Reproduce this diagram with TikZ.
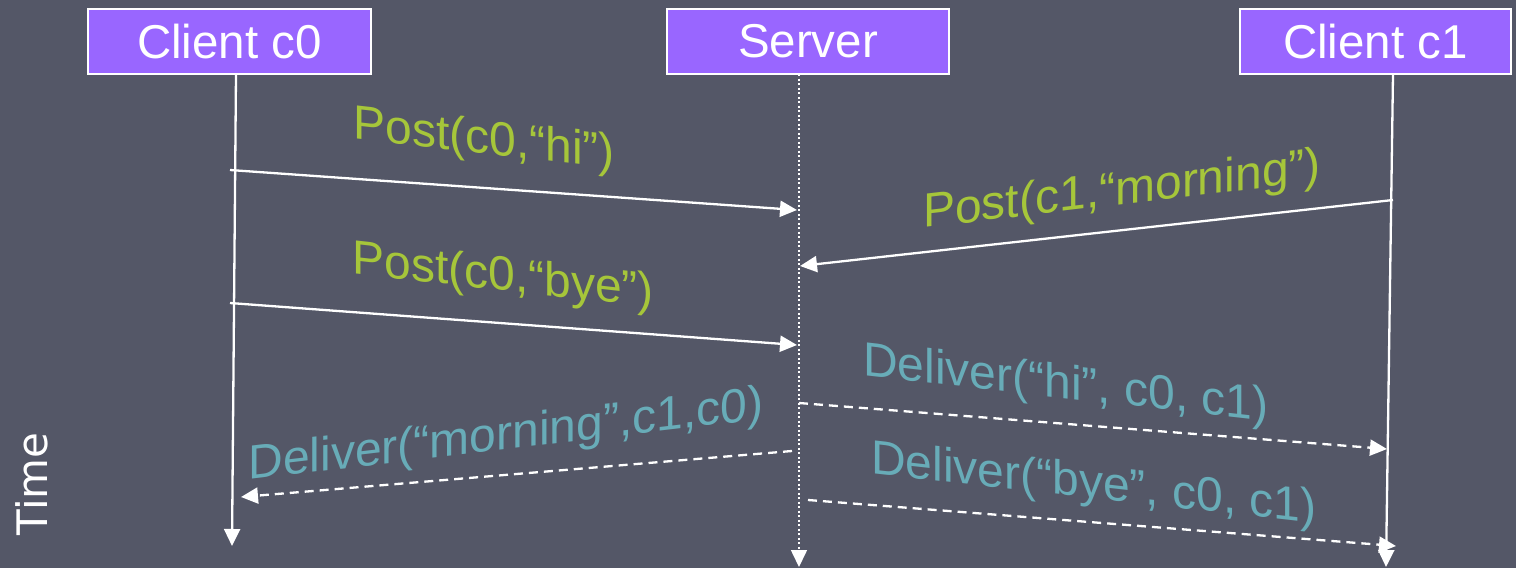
\documentclass[tikz,border=0pt]{standalone}
\usepackage{fontspec}
\setmainfont{Liberation Sans}
\newfontfamily\timefont{DejaVu Sans}
\usetikzlibrary{arrows.meta}
\definecolor{bgcol}{RGB}{84,87,103}
\definecolor{boxfill}{RGB}{153,102,255}
\definecolor{postcol}{RGB}{166,198,58}
\definecolor{delivcol}{RGB}{104,172,184}
\tikzset{
  party/.style={draw=white, line width=1.5pt, fill=boxfill, text=white,
    minimum height=65pt, inner sep=0pt, font=\fontsize{47.5}{50}\selectfont},
  tip/.style={-{Triangle[length=17pt,width=16pt]}},
  life/.style={draw=white, line width=2.3pt, tip},
  msg/.style={draw=white, line width=2.3pt, tip},
  dmsg/.style={msg, dash pattern=on 9pt off 6pt},
  % sloped labels: upright letters on a tilted baseline
  down/.style={yslant=-0.112, transform shape},
  up/.style={yslant=0.118, transform shape},
  postlbl/.style={text=postcol, font=\fontsize{48}{50}\selectfont, inner sep=0pt},
  delivlbl/.style={text=delivcol, font=\fontsize{48}{50}\selectfont, inner sep=0pt},
}
\begin{document}
\begin{tikzpicture}[x=1pt,y=-1pt]
  % canvas
  \fill[bgcol] (0,0) rectangle (1516,568);
  \useasboundingbox (0,0) rectangle (1516,568);

  % participants
  \node[party, minimum width=283pt] (c0) at (229.5,41.5) {Client c0};
  \node[party, minimum width=282pt] (srv) at (808,41.5) {Server};
  \node[party, minimum width=271pt] (c1) at (1375.5,41.5) {Client c1};

  % lifeline ends
  \coordinate (c0top) at (236,74);
  \coordinate (c0end) at (232,546);
  \coordinate (srvtop) at (799,74);
  \coordinate (srvend) at (799,567);
  \coordinate (c1top) at (1393,74);
  \coordinate (c1end) at (1386,567);

  \draw[life] (c0top) -- (c0end);
  \draw[life, line width=1.6pt, dash pattern=on 2pt off 2.5pt] (srvtop) -- (srvend);
  \draw[life] (c1top) -- (c1end);

  % message end points
  \coordinate (p1s) at (230,170);  \coordinate (p1e) at (797,210);
  \coordinate (p2s) at (1393,200); \coordinate (p2e) at (800,266);
  \coordinate (p3s) at (230,303);  \coordinate (p3e) at (797,345);
  \coordinate (d1s) at (799,403);  \coordinate (d1e) at (1387,449);
  \coordinate (d2s) at (792,451);  \coordinate (d2e) at (241,497);
  \coordinate (d3s) at (808,500);  \coordinate (d3e) at (1396,546);

  \draw[msg] (p1s) -- (p1e);
  \draw[msg] (p2s) -- (p2e);
  \draw[msg] (p3s) -- (p3e);
  \draw[dmsg] (d1s) -- (d1e);
  \draw[dmsg] (d2s) -- (d2e);
  \draw[dmsg] (d3s) -- (d3e);

  % message labels
  \node[postlbl, down] (lp1) at (484,141) {Post(c0,“hi”)};
  \node[postlbl, up] (lp2) at (1122,192) {Post(c1,“morning”)};
  \node[postlbl, down] (lp3) at (503,278) {Post(c0,“bye”)};
  \node[delivlbl, down] (ld1) at (1066,386) {Deliver(“hi”, c0, c1)};
  \node[delivlbl, up] (ld2) at (506,437) {Deliver(“morning”,c1,c0)};
  \node[delivlbl, down] (ld3) at (1094,486) {Deliver(“bye”, c0, c1)};

  % time axis caption
  \node[text=white, rotate=90, inner sep=0pt, font=\timefont\fontsize{42}{44}\selectfont] (time) at (32,484) {Time};
\end{tikzpicture}
\end{document}
